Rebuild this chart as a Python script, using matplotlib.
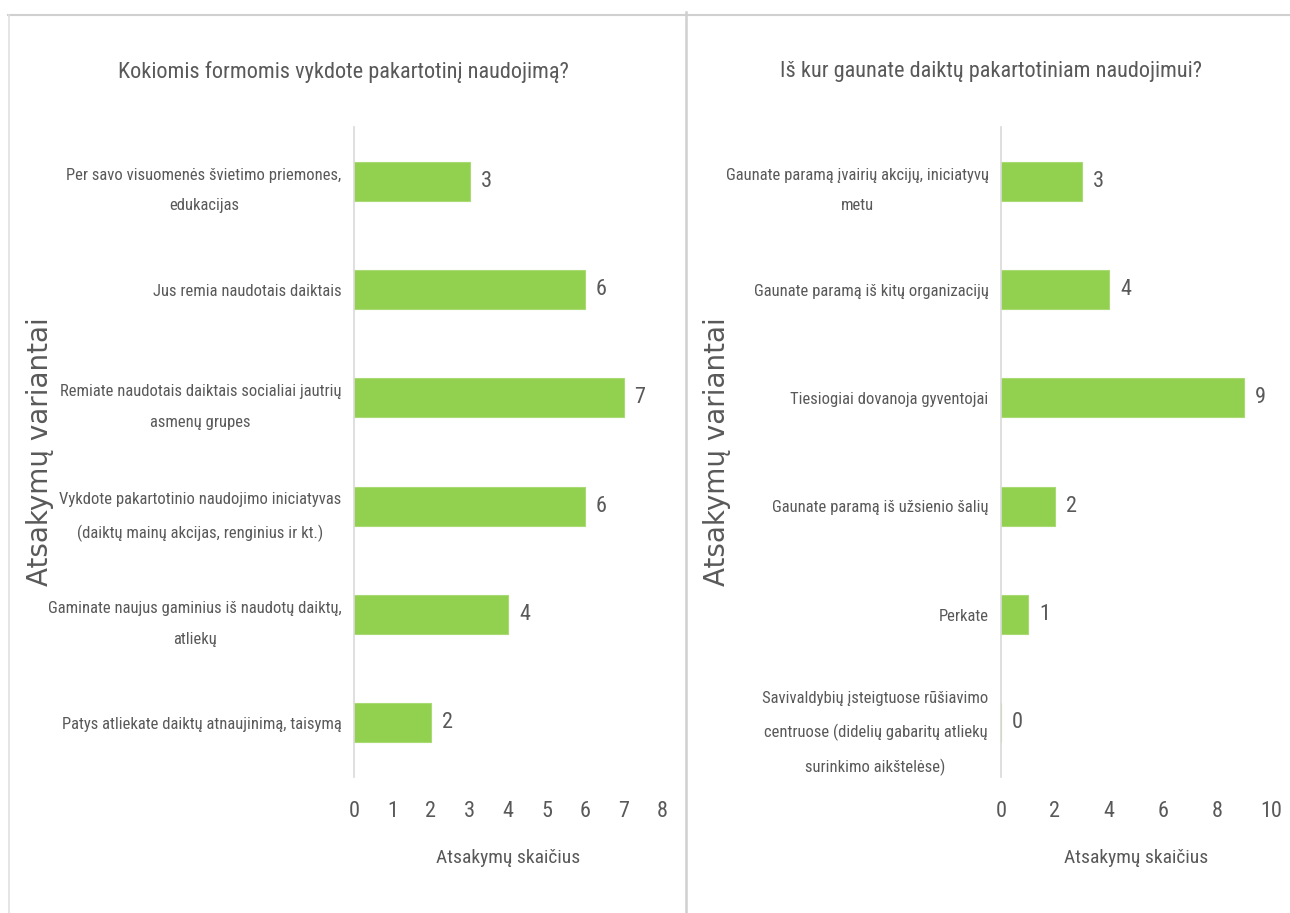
import matplotlib.pyplot as plt
from matplotlib import font_manager
from matplotlib.lines import Line2D

# Dados das duas perguntas
kat_formos = [
    'Per savo visuomenės švietimo priemones,\nedukacijas',
    'Jus remia naudotais daiktais',
    'Remiate naudotais daiktais socialiai jautrių\nasmenų grupes',
    'Vykdote pakartotinio naudojimo iniciatyvas\n(daiktų mainų akcijas, renginius ir kt.)',
    'Gaminate naujus gaminius iš naudotų daiktų,\natliekų',
    'Patys atliekate daiktų atnaujinimą, taisymą',
]
val_formos = [3, 6, 7, 6, 4, 2]

kat_saltiniai = [
    'Gaunate paramą įvairių akcijų, iniciatyvų\nmetu',
    'Gaunate paramą iš kitų organizacijų',
    'Tiesiogiai dovanoja gyventojai',
    'Gaunate paramą iš užsienio šalių',
    'Perkate',
    'Savivaldybių įsteigtuose rūšiavimo\ncentruose (didelių gabaritų atliekų\nsurinkimo aikštelėse)',
]
val_saltiniai = [3, 4, 9, 2, 1, 0]

titulo1 = 'Kokiomis formomis vykdote pakartotinį naudojimą?'
titulo2 = 'Iš kur gaunate daiktų pakartotiniam naudojimui?'
eixox = 'Atsakymų skaičius'
eixoy = 'Atsakymų variantai'

# Fonte estreita, se existir
nomes = {f.name for f in font_manager.fontManager.ttflist}
estreita = next((n for n in ['Liberation Sans Narrow', 'Roboto Condensed',
                             'Open Sans Condensed'] if n in nomes), 'Liberation Sans')
plt.rcParams['font.family'] = [estreita, 'DejaVu Sans']

cor_texto = '#595959'
cor_barra = '#92D050'
cor_linha = '#D9D9D9'

W, H = 1290, 913
fig = plt.figure(figsize=(W / 100, H / 100), dpi=100)


def px(x, y):
    return x / W, 1 - y / H


# Bordas da área
fig.add_artist(Line2D([8 / W, 1], [1 - 15 / H] * 2, color='#D0D0D0', lw=1.5))
fig.add_artist(Line2D([9 / W] * 2, [0, 1 - 15 / H], color='#E0E0E0', lw=1.2))
fig.add_artist(Line2D([686 / W] * 2, [0, 1 - 12 / H], color='#D0D0D0', lw=1.8))


def grafico(x0, x1, cats, vals, xmax, passo, titulo, tx, ylx):
    l, b = px(x0, 777)
    ax = fig.add_axes([l, b, (x1 - x0) / W, 650 / H])
    y = list(range(len(cats)))
    ax.barh(y, vals, height=0.36, color=cor_barra, edgecolor='#A9DA74', lw=0.8)
    for yi, v in zip(y, vals):
        ax.annotate(str(v), (v, yi), xytext=(8, 0), textcoords='offset points',
                    va='center', ha='left', fontsize=16, color=cor_texto)
    ax.set_ylim(len(cats) - 0.5, -0.5)
    ax.set_xlim(0, xmax)
    ax.set_xticks(range(0, xmax + 1, passo))
    ax.set_yticks(y)
    ax.set_yticklabels(cats, multialignment='center', linespacing=2.3)
    ax.tick_params(axis='both', length=0, colors=cor_texto, labelsize=12)
    ax.tick_params(axis='x', pad=17, labelsize=16)
    ax.tick_params(axis='y', pad=9)
    for s in ['top', 'right', 'bottom']:
        ax.spines[s].set_visible(False)
    ax.spines['left'].set_color(cor_linha)
    ax.spines['left'].set_linewidth(1.2)
    ax.set_xlabel(eixox, fontsize=14, color=cor_texto, labelpad=20)
    fig.text(*px(tx, 72), titulo, ha='center', va='center', fontsize=16,
             color=cor_texto)
    fig.text(*px(ylx, 452), eixoy, ha='center', va='center', rotation=90,
             fontsize=20, color=cor_texto, family=['DejaVu Sans'])
    return ax


grafico(354, 662, kat_formos, val_formos, 8, 1, titulo1, 343, 40)
grafico(1001, 1271, kat_saltiniai, val_saltiniai, 10, 2, titulo2, 991, 717)

plt.savefig('out.png', dpi=100, facecolor='white')
